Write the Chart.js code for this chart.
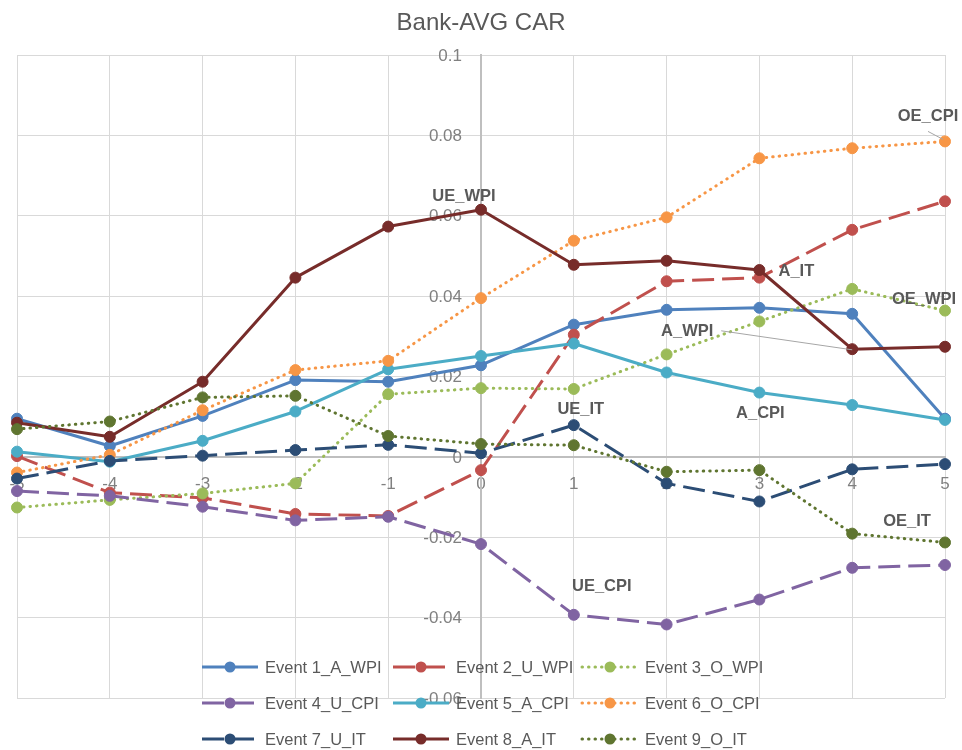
<!DOCTYPE html>
<html>
<head>
<meta charset="utf-8">
<script src="https://cdn.jsdelivr.net/npm/chart.js@4.4.0/dist/chart.umd.min.js"></script>
<style>
html,body{margin:0;padding:0;background:#ffffff;}
#wrap{width:962px;height:750px;position:relative;}
</style>
</head>
<body>
<div id="wrap"><canvas id="c" width="962" height="750"></canvas></div>
<script>
// ---------- DATA ----------
const categories = [-5, -4, -3, -2, -1, 0, 1, 2, 3, 4, 5];
const yTickValues = [-0.06, -0.04, -0.02, 0, 0.02, 0.04, 0.06, 0.08, 0.1];
const seriesNames = ['Event 1_A_WPI', 'Event 2_U_WPI', 'Event 3_O_WPI',
                     'Event 4_U_CPI', 'Event 5_A_CPI', 'Event 6_O_CPI',
                     'Event 7_U_IT', 'Event 8_A_IT', 'Event 9_O_IT'];
const event1 = [0.0095, 0.0027, 0.0102, 0.0191, 0.0187, 0.0228, 0.0329, 0.0366, 0.0371, 0.0356, 0.0095];
const event2 = [0.0002, -0.0089, -0.0102, -0.0142, -0.0147, -0.0033, 0.0304, 0.0437, 0.0446, 0.0565, 0.0636];
const event3 = [-0.0126, -0.0107, -0.0091, -0.0066, 0.0156, 0.0171, 0.0169, 0.0255, 0.0337, 0.0418, 0.0364];
const event4 = [-0.0085, -0.0097, -0.0124, -0.0158, -0.0149, -0.0217, -0.0393, -0.0417, -0.0355, -0.0276, -0.0269];
const event5 = [0.0013, -0.0012, 0.0040, 0.0113, 0.0218, 0.0251, 0.0282, 0.0210, 0.0160, 0.0129, 0.0092];
const event6 = [-0.0039, 0.0005, 0.0116, 0.0216, 0.0239, 0.0395, 0.0538, 0.0596, 0.0743, 0.0768, 0.0785];
const event7 = [-0.0054, -0.0010, 0.0003, 0.0017, 0.0030, 0.0009, 0.0079, -0.0066, -0.0111, -0.0031, -0.0018];
const event8 = [0.0085, 0.0050, 0.0187, 0.0446, 0.0573, 0.0615, 0.0478, 0.0488, 0.0465, 0.0268, 0.0274];
const event9 = [0.0069, 0.0088, 0.0148, 0.0152, 0.0052, 0.0032, 0.0029, -0.0037, -0.0033, -0.0191, -0.0213];
const seriesValues = [event1, event2, event3, event4, event5, event6, event7, event8, event9];

// data labels: text, series index, point index
const labelTexts   = ['UE_WPI', 'OE_CPI', 'A_IT', 'OE_WPI', 'A_WPI', 'A_CPI', 'UE_IT', 'OE_IT', 'UE_CPI'];
const labelSeries  = [7, 5, 7, 2, 0, 4, 6, 8, 3];
const labelPoint   = [5, 10, 8, 10, 9, 8, 6, 10, 6];

// ---------- STYLE ----------
const FONT = "'Liberation Sans', Arial, sans-serif";
const colors = ['#4F81BD', '#C0504D', '#9BBB59', '#8064A2', '#4BACC6', '#F79646', '#2C4D75', '#772C2A', '#5F7530'];
const lineKinds = ['solid', 'dash', 'dot', 'dash', 'solid', 'dot', 'dash', 'solid', 'dot'];
const dashFor = k => k === 'dash' ? [22, 8] : (k === 'dot' ? [0.5, 6] : []);
const capFor = k => k === 'dot' ? 'round' : 'butt';
// label offsets (px) relative to anchor point, and optional leader line
const labelOffsets = [[-17, -13], [-17, -25], [37, 1], [-21, -11], [-165, 18], [1, 21], [7, -16], [-38, -21], [28, -28]];
const leaderLines = { 1: [[0, 15], [15, 23]], 4: [[34, -1], [165, 18]] }; // relative to label center: from, to

const datasets = seriesNames.map((name, i) => ({
  label: name,
  data: categories.map((c, j) => ({ x: c, y: seriesValues[i][j] })),
  borderColor: colors[i],
  backgroundColor: colors[i],
  pointBackgroundColor: colors[i],
  pointBorderColor: colors[i],
  pointRadius: 5.5,
  pointBorderWidth: 1,
  pointHoverRadius: 5.5,
  borderWidth: 3,
  borderDash: dashFor(lineKinds[i]),
  borderCapStyle: capFor(lineKinds[i]),
  borderJoinStyle: 'round',
  tension: 0,
  clip: false,
  order: 9 - i
}));

const fmt = v => { const r = Math.round(v * 100) / 100; return r === 0 ? '0' : String(r); };

// y-axis tick labels drawn left of the centred axis (under the lines)
const yLabelPlugin = {
  id: 'yLabels',
  beforeDatasetsDraw(chart) {
    const ctx = chart.ctx;
    const xs = chart.scales.x, ys = chart.scales.y;
    const ax = xs.getPixelForValue(0);
    ctx.save();
    ctx.font = "17px " + FONT;
    ctx.fillStyle = '#808080';
    ctx.textAlign = 'right';
    ctx.textBaseline = 'middle';
    yTickValues.forEach(v => ctx.fillText(fmt(v), ax - 19, ys.getPixelForValue(v) + 1));
    ctx.restore();
  }
};

const dataLabelPlugin = {
  id: 'dataLabels',
  afterDatasetsDraw(chart) {
    const ctx = chart.ctx;
    const xs = chart.scales.x, ys = chart.scales.y;
    ctx.save();
    ctx.font = "bold 16.5px " + FONT;
    ctx.fillStyle = '#595959';
    ctx.textAlign = 'center';
    ctx.textBaseline = 'middle';
    labelTexts.forEach((t, k) => {
      const s = labelSeries[k], p = labelPoint[k];
      const px = xs.getPixelForValue(categories[p]);
      const py = ys.getPixelForValue(seriesValues[s][p]);
      const cx = px + labelOffsets[k][0], cy = py + labelOffsets[k][1];
      if (leaderLines[k]) {
        const [a, b] = leaderLines[k];
        ctx.save();
        ctx.strokeStyle = '#a6a6a6';
        ctx.lineWidth = 1;
        ctx.beginPath();
        ctx.moveTo(cx + a[0], cy + a[1]);
        ctx.lineTo(cx + b[0], cy + b[1]);
        ctx.stroke();
        ctx.restore();
      }
      ctx.fillText(t, cx, cy);
    });
    ctx.restore();
  }
};

const legendPlugin = {
  id: 'customLegend',
  afterDraw(chart) {
    const ctx = chart.ctx;
    const colX = [202, 393, 582], rowY = [667, 703, 739];
    ctx.save();
    seriesNames.forEach((name, i) => {
      const x0 = colX[i % 3], y = rowY[Math.floor(i / 3)];
      ctx.save();
      ctx.strokeStyle = colors[i];
      ctx.lineWidth = 3;
      ctx.setLineDash(dashFor(lineKinds[i]));
      ctx.lineCap = capFor(lineKinds[i]);
      ctx.beginPath();
      ctx.moveTo(x0, y);
      ctx.lineTo(x0 + 56, y);
      ctx.stroke();
      ctx.setLineDash([]);
      ctx.fillStyle = colors[i];
      ctx.beginPath();
      ctx.arc(x0 + 28, y, 5.5, 0, Math.PI * 2);
      ctx.fill();
      ctx.restore();
      ctx.font = "16.5px " + FONT;
      ctx.fillStyle = '#595959';
      ctx.textAlign = 'left';
      ctx.textBaseline = 'middle';
      ctx.fillText(name, x0 + 63, y + 1);
    });
    ctx.restore();
  }
};

new Chart(document.getElementById('c'), {
  type: 'line',
  data: { datasets },
  options: {
    responsive: false,
    devicePixelRatio: 1,
    animation: false,
    layout: { padding: { left: 17, right: 17, top: 0, bottom: 52 } },
    plugins: {
      legend: { display: false },
      tooltip: { enabled: false },
      title: {
        display: true,
        text: 'Bank-AVG CAR',
        color: '#595959',
        font: { family: FONT, size: 24, weight: 'normal' },
        padding: { top: 9, bottom: 17.2 }
      }
    },
    scales: {
      x: {
        type: 'linear',
        min: -5, max: 5,
        position: { y: 0 },
        afterBuildTicks: s => { s.ticks = categories.map(v => ({ value: v })); },
        afterFit: s => { s.paddingLeft = 0; s.paddingRight = 0; },
        ticks: { color: '#808080', font: { family: FONT, size: 17 }, padding: 17, callback: v => String(v) },
        grid: { color: '#d9d9d9', lineWidth: 1, drawTicks: false },
        border: { color: '#bfbfbf', width: 2 }
      },
      y: {
        type: 'linear',
        min: -0.06, max: 0.1,
        position: { x: 0 },
        afterBuildTicks: s => { s.ticks = yTickValues.map(v => ({ value: v })); },
        afterFit: s => { s.paddingTop = 0; s.paddingBottom = 0; },
        ticks: { display: false },
        grid: { color: '#d9d9d9', lineWidth: 1, drawTicks: false },
        border: { color: '#bfbfbf', width: 2 }
      }
    }
  },
  plugins: [yLabelPlugin, dataLabelPlugin, legendPlugin]
});
</script>
</body>
</html>
